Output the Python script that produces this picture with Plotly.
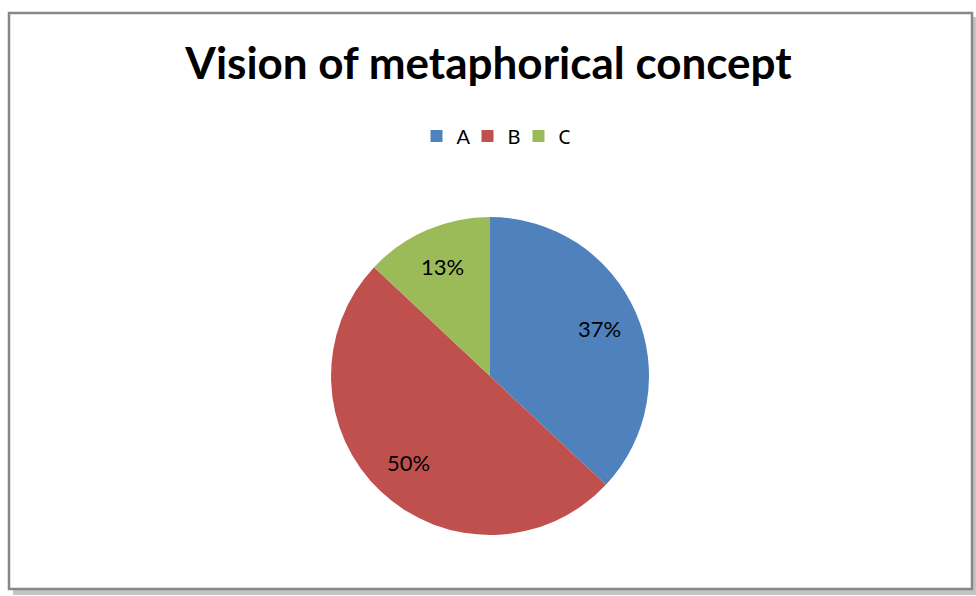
import math
import plotly.graph_objects as go

# Chart data
categories = ["A", "B", "C"]
shares = [37, 50, 13]
colors = ["#4F81BD", "#C0504D", "#9BBB59"]
title_text = "Vision of metaphorical concept"

W, H = 976, 596
FONT = "Lato"

# Pie geometry (pixels)
cx, cy, r = 490, 376, 159

fig = go.Figure(
    go.Pie(
        labels=categories,
        values=shares,
        sort=False,
        direction="clockwise",
        rotation=0,
        marker=dict(colors=colors, line=dict(width=0)),
        textinfo="none",
        hoverinfo="label+percent",
        domain=dict(
            x=[(cx - r) / W, (cx + r) / W],
            y=[1 - (cy + r) / H, 1 - (cy - r) / H],
        ),
    )
)

# Percentage labels placed along each slice's mid-angle
total = sum(shares)
annotations = []
start = 0.0
for v in shares:
    ang = start + v / total * 360 / 2
    start += v / total * 360
    k = 0.75
    px = cx + k * r * math.sin(math.radians(ang))
    py = cy - k * r * math.cos(math.radians(ang))
    annotations.append(
        dict(
            x=px / W, y=1 - py / H, xref="paper", yref="paper",
            text=f"{round(v / total * 100)}%", showarrow=False,
            font=dict(family=FONT, size=22, color="#000000"),
            xanchor="center", yanchor="middle",
        )
    )

# Chart frame with drop shadow
shapes = [
    dict(type="rect", xref="paper", yref="paper", layer="below",
         x0=13 / W, x1=976 / W, y0=1 - 595 / H, y1=1 - 17 / H,
         fillcolor="#c4c4c4", line=dict(width=0)),
    dict(type="rect", xref="paper", yref="paper", layer="below",
         x0=9 / W, x1=972 / W, y0=1 - 589 / H, y1=1 - 13 / H,
         fillcolor="#ffffff", line=dict(color="#878787", width=2.5)),
]

fig.update_layout(
    width=W, height=H,
    margin=dict(l=0, r=0, t=0, b=0),
    paper_bgcolor="#ffffff",
    title=dict(
        text=f"<b>{title_text}</b>",
        x=488.5 / W, xanchor="center", xref="paper",
        y=1 - 64 / H, yanchor="middle", yref="container",
        font=dict(family=FONT, size=44, color="#000000"),
    ),
    legend=dict(
        orientation="h",
        x=493 / W, xanchor="center",
        y=1 - 136 / H, yanchor="middle",
        font=dict(family=FONT, size=20, color="#000000"),
        itemwidth=30,
        entrywidth=6, entrywidthmode="pixels",
        bgcolor="rgba(0,0,0,0)",
    ),
    annotations=annotations,
    shapes=shapes,
)

fig.write_html("out.html")
